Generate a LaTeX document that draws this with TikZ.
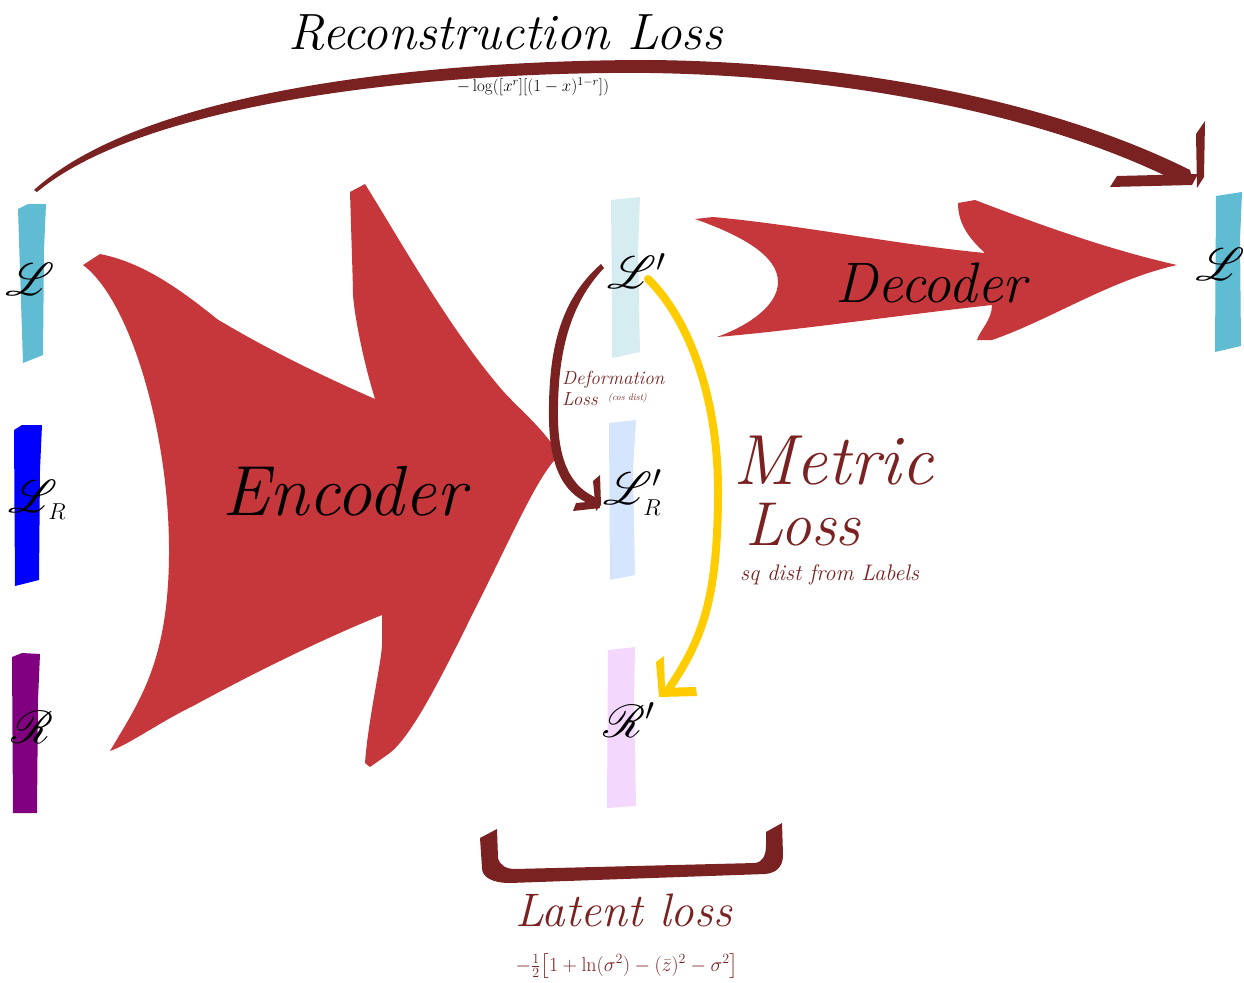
\RequirePackage{fix-cm}
\documentclass[tikz,border=0pt]{standalone}
\usepackage{amsmath}
\usepackage{mathrsfs}
\DeclareFontFamily{U}{rsfs}{\skewchar\font127 }
\DeclareFontShape{U}{rsfs}{m}{n}{<-6>rsfs5<6-8>rsfs7<8->rsfs10}{}
\definecolor{cyanbar}{HTML}{5FBCD3}
\definecolor{bluebar}{HTML}{0000FF}
\definecolor{purplebar}{HTML}{800080}
\definecolor{lcyan}{HTML}{D5ECF1}
\definecolor{lblue}{HTML}{D5E5FD}
\definecolor{lpink}{HTML}{F4D7FC}
\definecolor{redarrow}{HTML}{C5373A}
\definecolor{darkred}{HTML}{7A2222}
\definecolor{yel}{HTML}{FFCC00}
\tikzset{
  lbl/.style={inner sep=0pt, font=\fontsize{46}{50}\selectfont},
  bigtxt/.style={inner sep=0pt, anchor=base west},
}
\begin{document}
\begin{tikzpicture}[x=1pt,y=-1pt]
\useasboundingbox (0,0) rectangle (1244,982);
\fill[white] (0,0) rectangle (1244,982);

% ---------- bars ----------
\fill[cyanbar] (18,209)--(28,204)--(46,204)--(44,250)--(43,355)--(23,363)--cycle;
\fill[bluebar] (14,430)--(22,425)--(42,425)--(40,470)--(39,580)--(15,586)--cycle;
\fill[purplebar] (12,657)--(22,653)--(40,654)--(38,700)--(37,813)--(13,813)--cycle;
\fill[lcyan] (611,200)--(640,197)--(638,250)--(640,352)--(612,358)--(612,300)--cycle;
\fill[lblue] (609,423)--(636,420)--(633,470)--(635,575)--(610,580)--cycle;
\fill[lpink] (608,650)--(635,647)--(634,700)--(636,806)--(607,808)--cycle;
\fill[cyanbar] (1216,196)--(1242,192)--(1240,240)--(1241,346)--(1215,352)--cycle;

% ---------- Encoder arrow ----------
\fill[redarrow] (83,265) -- (100,254) .. controls (140,262) and (175,285) .. (217,319)
  .. controls (265,348) and (320,375) .. (375,399)
  .. controls (360,350) and (352,300) .. (353,289)
  -- (350,192) -- (365,184)
  .. controls (400,240) and (450,330) .. (503,391)
  .. controls (520,410) and (540,425) .. (560,455)
  .. controls (540,470) and (510,540) .. (477,605)
  .. controls (440,680) and (410,740) .. (387,755)
  -- (370,767) -- (365,763)
  .. controls (368,720) and (382,660) .. (382,644)
  -- (382,615)
  .. controls (320,640) and (250,675) .. (193,706)
  .. controls (160,722) and (128,745) .. (110,751)
  .. controls (140,700) and (170,660) .. (169,545)
  .. controls (168,430) and (130,300) .. (83,265) -- cycle;
\node[bigtxt, font=\fontsize{71}{74}\selectfont\itshape] (enc) at (222,515) {Encoder};

% ---------- Decoder arrow ----------
\fill[redarrow] (695,219) -- (713,217)
  .. controls (800,225) and (900,245) .. (985,253)
  .. controls (965,235) and (958,220) .. (958,203)
  -- (975,200)
  .. controls (1040,225) and (1110,250) .. (1177,265)
  .. controls (1110,280) and (1050,320) .. (992,340)
  -- (977,340)
  .. controls (980,330) and (992,320) .. (992,305)
  .. controls (900,315) and (800,330) .. (717,337)
  .. controls (750,325) and (778,305) .. (778,282)
  .. controls (778,255) and (740,235) .. (695,219) -- cycle;
\node[bigtxt, font=\fontsize{57}{60}\selectfont\itshape] (dec) at (835,302) {Decoder};

% ---------- bar labels ----------
\node[lbl] (L1) at (30,279) {$\mathscr{L}$};
\node[lbl, anchor=west] (LR1) at (8,500) {$\mathscr{L}_{\scriptscriptstyle R}$};
\node[lbl] (R1) at (32,727) {$\mathscr{R}$};
\node[lbl, anchor=west] (L2) at (607,271) {$\mathscr{L}'$};
\node[lbl, anchor=west] (LR2) at (603,493) {$\mathscr{L}_{\scriptscriptstyle R}'$};
\node[lbl, anchor=west] (R2) at (603,720) {$\mathscr{R}'$};
\node[lbl] (L3) at (1220,264) {$\mathscr{L}$};

% ---------- Reconstruction loss arc ----------
\coordinate (rs) at (34,190);
\coordinate (re) at (1192,178);
\fill[darkred] (rs) .. controls (150,85) and (450,60) .. (650,60)
  .. controls (850,62) and (1050,100) .. (1190,170)
  -- (re) -- (1182,184)
  .. controls (1050,116) and (850,76) .. (650,73)
  .. controls (450,71) and (150,98) .. (37,192) -- cycle;
\fill[darkred] (1196,134) -- (1205,121) -- (1204,177) -- (1197,188) -- cycle;
\fill[darkred] (1117,176) -- (1198,174) -- (1192,185) -- (1110,187) -- cycle;
\node[bigtxt, font=\fontsize{51}{54}\selectfont\itshape] (rec) at (288,50) {Reconstruction Loss};
\node[inner sep=0pt, font=\fontsize{17}{19}\selectfont] (recf) at (533,87) {$-\log([x^{r}][(1-x)^{1-r}])$};

% ---------- Deformation loss arrow ----------
\coordinate (ds) at (601,264);
\coordinate (de) at (596,506);
\fill[darkred] (ds) .. controls (560,300) and (548,350) .. (549,420)
  .. controls (550,470) and (565,497) .. (de)
  -- (597,498) .. controls (573,488) and (559,465) .. (558,420)
  .. controls (557,355) and (569,305) .. (604,268) -- cycle;
\fill[darkred] (593,481) -- (600,475) -- (601,505) -- (596,511) -- cycle;
\fill[darkred] (576,503) -- (599,501) -- (600,508) -- (573,511) -- cycle;
\node[bigtxt, text=darkred, font=\fontsize{19}{21}\selectfont\itshape] (defo) at (562,384) {Deformation};
\node[bigtxt, text=darkred, font=\fontsize{19}{21}\selectfont\itshape] (defl) at (562,405) {Loss};
\node[bigtxt, text=darkred, font=\fontsize{9.5}{11}\selectfont\itshape] (defc) at (608,400) {(cos dist)};

% ---------- Metric loss arrow ----------
\coordinate (ms) at (648,279);
\coordinate (me) at (668,690);
\draw[yel, line width=8pt, line cap=round] (ms) .. controls (690,320) and (718,400) .. (718,490)
  .. controls (718,600) and (702,640) .. (me);
\fill[yel] (656,662) -- (664,656) -- (665,690) -- (659,697) -- cycle;
\fill[yel] (660,688) -- (696,687) -- (697,696) -- (659,697) -- cycle;
\node[bigtxt, text=darkred, font=\fontsize{71}{74}\selectfont\itshape] (met) at (733,484) {Metric};
\node[bigtxt, text=darkred, font=\fontsize{62}{64}\selectfont\itshape] (mlo) at (745,545) {Loss};
\node[bigtxt, text=darkred, font=\fontsize{22.5}{24}\selectfont\itshape] (msq) at (740,580) {sq dist from Labels};

% ---------- Latent loss bracket ----------
\fill[darkred] (480,838) -- (497,829) -- (498,858)
  .. controls (500,866) and (507,869) .. (515,869)
  -- (755,863) .. controls (763,862) and (766,855) .. (766,845)
  -- (766,832) -- (782,823) -- (783,855)
  .. controls (783,868) and (775,873) .. (765,874)
  -- (510,883) .. controls (492,883) and (482,877) .. (482,868) -- cycle;
\node[bigtxt, text=darkred, font=\fontsize{47}{50}\selectfont\itshape] (lat) at (515,926) {Latent loss};
\node[inner sep=0pt, text=darkred, font=\fontsize{20}{22}\selectfont] (latf) at (627,966) {$-\tfrac{1}{2}\bigl[1+\ln(\sigma^{2})-(\bar{z})^{2}-\sigma^{2}\bigr]$};
\end{tikzpicture}
\end{document}
